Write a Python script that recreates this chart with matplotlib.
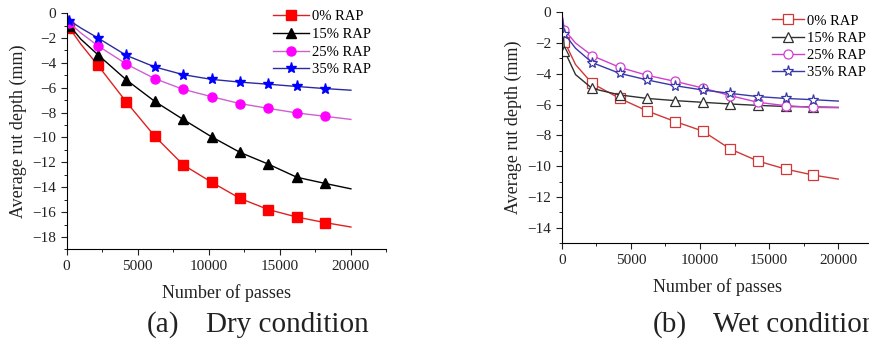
import matplotlib
matplotlib.use("Agg")
import matplotlib.pyplot as plt
from matplotlib.ticker import MultipleLocator

plt.rcParams['font.family'] = ['Liberation Serif', 'DejaVu Serif']

# Number of passes where values were read (markers at 200 ... 18200)
passes = [0, 200, 1000, 2200, 4200, 6200, 8200, 10200, 12200, 14200, 16200, 18200, 20000]
labels = ['0% RAP', '15% RAP', '25% RAP', '35% RAP']

# Dry condition - average rut depth (mm)
dry_0 = [0, -1.2, -2.5, -4.2, -7.15, -9.9, -12.2, -13.6, -14.9, -15.8, -16.4, -16.85, -17.2]
dry_15 = [0, -1.0, -2.1, -3.35, -5.37, -7.1, -8.55, -9.95, -11.2, -12.15, -13.2, -13.7, -14.13]
dry_25 = [0, -0.8, -1.6, -2.63, -4.1, -5.27, -6.13, -6.72, -7.28, -7.66, -8.03, -8.3, -8.55]
dry_35 = [0, -0.6, -1.2, -2.0, -3.4, -4.33, -4.95, -5.33, -5.55, -5.72, -5.9, -6.07, -6.2]

# Wet condition - average rut depth (mm)
wet_0 = [0, -1.9, -3.4, -4.62, -5.6, -6.42, -7.1, -7.72, -8.89, -9.67, -10.19, -10.58, -10.84]
wet_15 = [0, -2.5, -4.05, -4.95, -5.37, -5.6, -5.74, -5.85, -5.96, -6.05, -6.12, -6.15, -6.18]
wet_25 = [0, -1.15, -2.0, -2.82, -3.58, -4.1, -4.49, -4.92, -5.42, -5.85, -6.07, -6.18, -6.2]
wet_35 = [0, -1.4, -2.34, -3.27, -3.97, -4.4, -4.77, -5.05, -5.27, -5.48, -5.6, -5.68, -5.77]

dry = [dry_0, dry_15, dry_25, dry_35]
wet = [wet_0, wet_15, wet_25, wet_35]

markers = ['s', '^', 'o', '*']
dry_mcol = ['#ff0000', '#000000', '#ff00ff', '#0000ff']
dry_lcol = ['#e02020', '#000000', '#d060d0', '#2a2aa0']
wet_col = ['#d03838', '#303030', '#d040d0', '#3838a8']

fig = plt.figure(figsize=(8.69, 3.41), dpi=100)
ax1 = fig.add_axes([0.0767, 0.2686, 0.368, 0.693])
ax2 = fig.add_axes([0.6464, 0.287, 0.358, 0.677])

for i in range(4):
    ax1.plot(passes, dry[i], color=dry_lcol[i], lw=1.0, marker=markers[i],
             markersize=8 if markers[i] == '*' else 6.5,
             markerfacecolor=dry_mcol[i], markeredgecolor=dry_mcol[i],
             markevery=[1] + list(range(3, 12)), label=labels[i])
    ax2.plot(passes, wet[i], color=wet_col[i], lw=1.0, marker=markers[i],
             markersize=8 if markers[i] == '*' else 6.5,
             markerfacecolor='white', markeredgecolor=wet_col[i], markeredgewidth=0.9,
             markevery=[1] + list(range(3, 12)), label=labels[i])

for ax, ylo in [(ax1, -19), (ax2, -15)]:
    ax.set_xlim(0, 22500)
    ax.set_ylim(ylo, 0)
    ax.xaxis.set_minor_locator(MultipleLocator(2500))
    ax.yaxis.set_minor_locator(MultipleLocator(1))
    ax.set_xticks([0, 5000, 10000, 15000, 20000])
    ax.spines['top'].set_visible(False)
    ax.spines['right'].set_visible(False)
    ax.tick_params(which='major', direction='out', length=4, labelsize=11, colors='#222222')
    ax.tick_params(which='minor', direction='out', length=2.5)
    ax.set_xlabel('Number of passes', fontsize=13, labelpad=8, color='#222222')
    ax.set_ylabel('Average rut depth (mm)', fontsize=13, color='#222222')

ax1.set_yticks(range(-18, 1, 2))
ax2.set_yticks(range(-14, 1, 2))

h1, l1 = ax1.get_legend_handles_labels()
fig.legend(h1, l1, loc='upper left', bbox_to_anchor=(0.314, 0.970), frameon=False,
           fontsize=10.5, handlelength=2.5, handletextpad=0.2, labelspacing=0.3,
           borderpad=0, borderaxespad=0)
h2, l2 = ax2.get_legend_handles_labels()
fig.legend(h2, l2, loc='upper left', bbox_to_anchor=(0.888, 0.958), frameon=False,
           fontsize=10.5, handlelength=2.2, handletextpad=0.2, labelspacing=0.28,
           borderpad=0, borderaxespad=0)

fig.text(0.169, 0.027, '(a)', fontsize=21, color='#222222')
fig.text(0.237, 0.027, 'Dry condition', fontsize=21, color='#222222')
fig.text(0.751, 0.027, '(b)', fontsize=21, color='#222222')
fig.text(0.82, 0.027, 'Wet condition', fontsize=21, color='#222222')

fig.savefig('out.png', dpi=100)
